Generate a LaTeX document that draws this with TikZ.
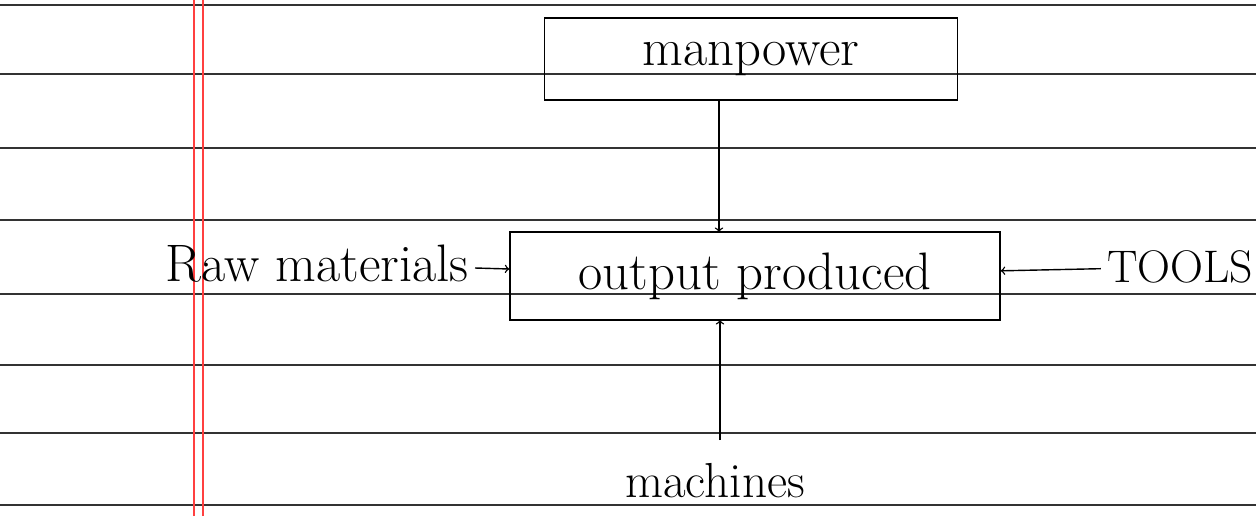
\documentclass[tikz,border=0pt]{standalone}
\usepackage{amsmath}
\usepackage{tikz}

\begin{document}
\begin{tikzpicture}[x=1cm,y=1cm]
	
	\useasboundingbox (0,0) rectangle (25.12,10.32);
	\fill[white] (0,0) rectangle (25.12,10.32);
	
	% ruled paper
	\foreach \y in {0.22,1.66,3.02,4.44,5.92,7.36,8.84,10.22}
	\draw[black!80, line width=1.2pt] (0,\y) -- (25.12,\y);
	\draw[red!75, line width=0.8pt] (3.88,0) -- (3.88,10.32);
	\draw[red!75, line width=0.8pt] (4.06,0) -- (4.06,10.32);
	
	\node[shape=rectangle,draw=black,thick,minimum width=8.26cm,minimum height=1.64cm,font=\fontsize{30}{32}\selectfont] (man) at (15.02, 9.14) {manpower};
	\node[shape=rectangle,draw=black,thick,minimum width=9.8cm,minimum height=1.76cm,font=\fontsize{30}{32}\selectfont] (out) at (15.1, 4.8) {output produced};
	\node[anchor=east,font=\fontsize{30}{32}\selectfont] (raw) at (9.5, 5.05) {Raw materials};
	\node[font=\fontsize{26}{28}\selectfont] (tools) at (23.6, 4.98) {TOOLS};
	\node[font=\fontsize{28}{30}\selectfont,inner sep=1pt] (mach) at (14.3, 0.7) {machines};
	\coordinate (m1) at (14.4, 1.52);
	\coordinate (m2) at (14.4, 3.92);
	\coordinate (p1) at (14.38, 8.32);
	\coordinate (p2) at (14.38, 5.68);
	
	
	\path[->, thick] (p1) edge (p2);
	\path[->, thick] (raw) edge (out);
	\path[->, thick] (tools) edge (out);
	\path[->, thick] (m1) edge (m2);
	
\end{tikzpicture}
\end{document}
